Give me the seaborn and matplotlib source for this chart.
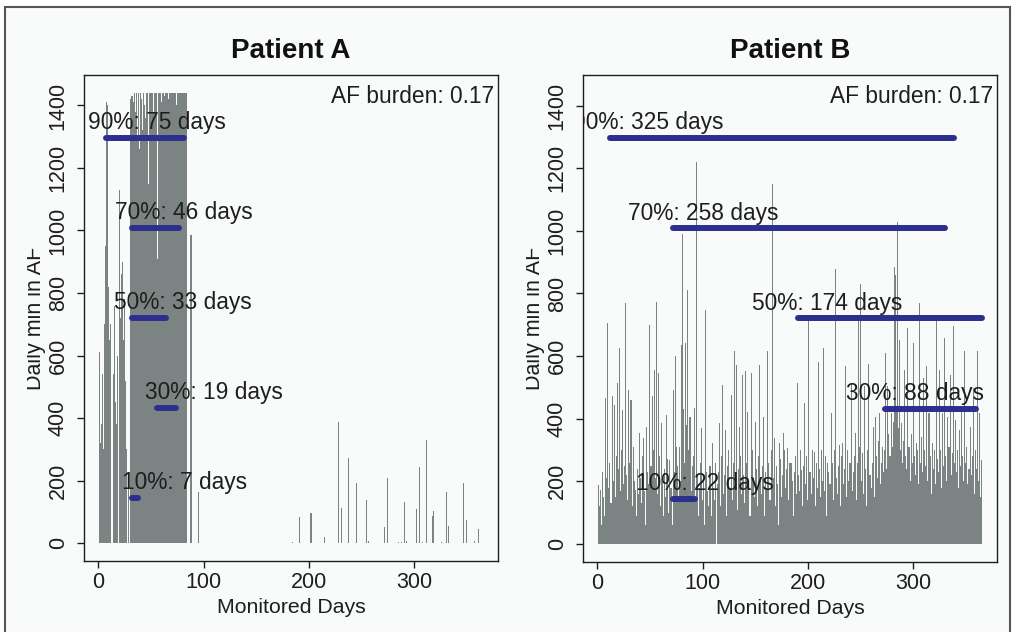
import numpy as np
import pandas as pd
import matplotlib
matplotlib.use('Agg')
import matplotlib.pyplot as plt
import seaborn as sns
from matplotlib.patches import Rectangle
from matplotlib.transforms import Bbox

# --- dados (minutos diarios em FA, dias 1..365) ---
# Paciente A: dias 1-95 densos, depois apenas picos isolados
a_inicio = [
    610, 320, 380, 540, 300, 700, 950, 1410, 1400, 820,
    650, 700, 0, 540, 760, 450, 380, 600, 0, 1130,
    720, 860, 900, 650, 780, 520, 300, 0, 180, 0,
    1420, 1430, 1410, 1440, 1380, 1440, 1300, 1440, 1260, 1440,
    1420, 1320, 1440, 1400, 1360, 1440, 1440, 1150, 1440, 1440,
    1440, 1380, 1440, 1440, 1440, 910, 1440, 1440, 1440, 1410,
    1440, 1440, 1430, 1440, 1440, 1440, 1420, 1440, 1440, 1440,
    1440, 1440, 1440, 1400, 1440, 1440, 1440, 1440, 1440, 1440,
    1440, 1440, 1440, 1440, 0, 0, 0, 987, 0, 0,
    0, 0, 0, 0, 163,
]
a_picos_dias = [184, 191, 202, 215, 228, 231, 238, 245, 255, 257, 272, 275, 285, 288,
                291, 293, 302, 305, 308, 312, 317, 318, 326, 331, 333, 347, 350, 357, 361]
a_picos_min = [2, 84, 96, 18, 388, 112, 272, 193, 139, 8, 52, 208, 4, 3,
               131, 5, 109, 243, 3, 329, 87, 101, 3, 164, 53, 192, 73, 5, 45]

paciente_b = [
    189, 120, 172, 60, 230, 150, 90, 466, 210, 707,
    180, 260, 130, 471, 200, 444, 150, 280, 513, 240,
    625, 170, 300, 428, 190, 250, 769, 220, 140, 492,
    260, 460, 120, 310, 200, 172, 90, 240, 160, 354,
    210, 130, 280, 338, 170, 60, 375, 230, 190, 700,
    250, 471, 300, 556, 210, 774, 160, 545, 280, 120,
    386, 200, 90, 240, 150, 412, 270, 100, 268, 180,
    60, 492, 230, 599, 310, 250, 140, 311, 200, 636,
    991, 430, 260, 641, 380, 810, 300, 407, 170, 250,
    280, 434, 150, 1219, 220, 90, 180, 260, 370, 140,
    200, 60, 748, 230, 170, 120, 250, 90, 322, 180,
    140, 260, 0, 190, 230, 386, 120, 280, 508, 160,
    220, 364, 90, 250, 300, 180, 476, 140, 260, 615,
    200, 572, 110, 240, 375, 280, 160, 540, 220, 130,
    551, 260, 423, 180, 90, 545, 300, 210, 150, 391,
    240, 120, 280, 572, 200, 160, 250, 407, 90, 230,
    180, 615, 260, 140, 300, 1150, 210, 338, 120, 250,
    190, 60, 322, 270, 150, 220, 354, 300, 180, 240,
    306, 140, 260, 258, 200, 90, 230, 280, 160, 513,
    220, 170, 300, 236, 120, 250, 450, 190, 280, 140,
    721, 230, 160, 300, 210, 295, 120, 260, 180, 580,
    240, 150, 300, 200, 625, 170, 280, 90, 258, 230,
    190, 418, 260, 140, 300, 878, 210, 160, 250, 316,
    120, 280, 322, 190, 240, 569, 150, 300, 200, 260,
    513, 170, 230, 280, 354, 140, 260, 716, 310, 831,
    200, 290, 160, 503, 240, 120, 300, 574, 220, 180,
    260, 375, 150, 407, 280, 210, 330, 418, 190, 260,
    311, 230, 300, 609, 240, 503, 350, 280, 418, 310,
    390, 886, 860, 420, 1027, 370, 652, 300, 386, 260,
    330, 556, 280, 240, 689, 310, 200, 350, 260, 641,
    280, 220, 322, 300, 190, 769, 260, 340, 230, 529,
    300, 250, 567, 200, 418, 280, 160, 322, 240, 300,
    190, 711, 270, 230, 556, 300, 180, 418, 250, 657,
    280, 200, 407, 310, 540, 220, 290, 695, 260, 396,
    230, 300, 180, 364, 250, 434, 280, 200, 615, 260,
    310, 190, 240, 375, 220, 280, 498, 160, 300, 240,
    615, 200, 418, 150, 268,
]

percentis = [90, 70, 50, 30, 10]
a_dias = [75, 46, 33, 19, 7]
a_ini = [7, 32, 32, 56, 32]
a_fim = [81, 77, 64, 74, 38]
b_dias = [325, 258, 174, 88, 22]
b_ini = [12, 72, 191, 273, 72]
b_fim = [339, 330, 365, 360, 93]
carga = [0.17, 0.17]

# posicao (centro, em dias) dos rotulos
a_rot_x = [56, 81, 80, 110, 82]
b_rot_x = [48, 101, 218, 302, 102]

CINZA = '#7c8483'
AZUL = '#2d2f8e'
FUNDO = '#f9fbfb'
TXT = '#1e1e1e'

dias = np.arange(1, 366)
paciente_a = np.zeros(365)
paciente_a[:len(a_inicio)] = a_inicio
paciente_a[np.array(a_picos_dias) - 1] = a_picos_min

sns.set_theme(style='white')
plt.rcParams['font.family'] = ['Liberation Sans', 'DejaVu Sans']

fig = plt.figure(figsize=(10.16, 6.32), dpi=100, facecolor='white')
fig.patches.append(Rectangle((5 / 1016, -0.05), 1005 / 1016, 1.05 - 7 / 632,
                             transform=fig.transFigure, facecolor=FUNDO,
                             edgecolor='#555555', linewidth=1.5, zorder=-1))

ax_a = fig.add_axes([84 / 1016, 71 / 632, 414 / 1016, 486 / 632])
ax_b = fig.add_axes([583 / 1016, 70 / 632, 414 / 1016, 487 / 632])


def desenhar(ax, valores, titulo, n_dias, ini, fim, rot_x, burden, clip_x):
    df = pd.DataFrame({'Dia': dias, 'Min': valores})
    sns.barplot(data=df, x='Dia', y='Min', native_scale=True, width=1.0,
                color=CINZA, saturation=1, linewidth=0, errorbar=None, ax=ax)
    niveis = [p / 100 * 1440 for p in percentis]
    ax.hlines(niveis, ini, fim, colors=AZUL, linewidth=4.3, capstyle='round', zorder=3)
    for p, n, nv, cx in zip(percentis, n_dias, niveis, rot_x):
        ax.text(cx, nv + 28, f'{p}%: {n} days', ha='center', va='baseline',
                fontsize=16.4, color=TXT, clip_on=True, zorder=4)
    ax.text(0.99, 0.9425, f'AF burden: {burden}', transform=ax.transAxes,
            ha='right', va='baseline', fontsize=16.4, color=TXT)

    ax.set_facecolor(FUNDO)
    ax.set_xlim(-13.6, 379.6)
    ax.set_ylim(-57.6, 1497.6)
    ax.set_xticks([0, 100, 200, 300])
    ax.set_yticks(range(0, 1401, 200))
    ax.tick_params(bottom=True, left=True, direction='out', length=5, width=1,
                   color=TXT, labelsize=15.5, labelcolor=TXT, pad=3)
    ax.tick_params(axis='y', pad=6)
    for t in ax.get_yticklabels():
        t.set_rotation(90)
        t.set_va('center')
    for s in ax.spines.values():
        s.set_visible(True)
        s.set_color(TXT)
        s.set_linewidth(1.0)
    ax.set_title(titulo, fontsize=20, fontweight='bold', pad=12, color='#111111')
    ax.set_xlabel('Monitored Days', fontsize=15.3, color=TXT, labelpad=3.5)
    ax.set_ylabel('Daily min in AF', fontsize=15.5, color=TXT, labelpad=1)
    ax.yaxis.label.set_clip_box(Bbox.from_extents(clip_x, 0, 1016, 632))
    ax.yaxis.label.set_clip_on(True)


desenhar(ax_a, paciente_a, 'Patient A', a_dias, a_ini, a_fim, a_rot_x, carga[0], 27)
desenhar(ax_b, paciente_b, 'Patient B', b_dias, b_ini, b_fim, b_rot_x, carga[1], 526)

fig.savefig('out.png', dpi=100)
